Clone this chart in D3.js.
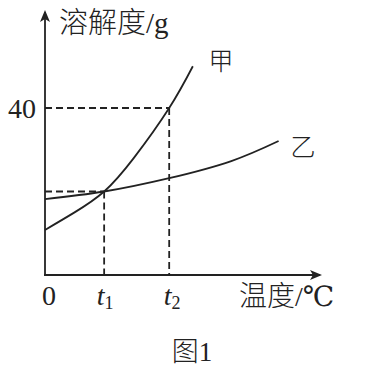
<!DOCTYPE html>
<html>
<head>
<meta charset="utf-8">
<script src="https://cdn.jsdelivr.net/npm/d3@7"></script>
<style>
  body { margin: 0; background: #fff; }
  .serif { font-family: "Liberation Serif", "DejaVu Serif", serif; }
  .cjk { font-family: "Noto Sans CJK SC", sans-serif; font-weight: 300; }
</style>
</head>
<body>
<div id="chart"></div>
<script>
var svgWidth = 372;
var svgHeight = 386;

// curve data (temperature units, solubility g)
var jiaTemp = [0, 10, 20, 30, 42, 50];
var jiaSol = [10.8, 15.0, 20, 28.0, 40, 50];
var yiTemp = [0, 20, 42, 63, 79];
var yiSol = [18.2, 20, 23.2, 27.3, 32.1];

var t1 = 20, t2 = 42;
var yMark = [20, 40];
var yTickLabels = ["40"];

var svg = d3.select("#chart")
  .append("svg")
  .attr("width", svgWidth)
  .attr("height", svgHeight);

var x = d3.scaleLinear().domain([0, 93]).range([45, 320]);
var y = d3.scaleLinear().domain([0, 63]).range([275, 12]);

var ink = "#222";

// arrow heads
var defs = svg.append("defs");
defs.append("marker")
  .attr("id", "arrow")
  .attr("viewBox", "0 0 12 10")
  .attr("refX", 10).attr("refY", 5)
  .attr("markerWidth", 12).attr("markerHeight", 10)
  .attr("markerUnits", "userSpaceOnUse")
  .attr("orient", "auto")
  .append("path")
  .attr("d", "M0,0 L12,5 L0,10 L3,5 Z")
  .attr("fill", ink);

// axes
svg.append("line")
  .attr("x1", x(0)).attr("y1", y(0))
  .attr("x2", x(0)).attr("y2", y(63))
  .attr("stroke", ink).attr("stroke-width", 1.8)
  .attr("marker-end", "url(#arrow)");

svg.append("line")
  .attr("x1", x(0) - 1).attr("y1", y(0))
  .attr("x2", x(93)).attr("y2", y(0))
  .attr("stroke", ink).attr("stroke-width", 1.8)
  .attr("marker-end", "url(#arrow)");

// dashed guide lines
function dashed(x1, y1, x2, y2) {
  svg.append("line")
    .attr("x1", x1).attr("y1", y1).attr("x2", x2).attr("y2", y2)
    .attr("stroke", ink).attr("stroke-width", 1.8)
    .attr("stroke-dasharray", "7,4");
}
dashed(x(0), y(yMark[1]), x(t2), y(yMark[1]));
dashed(x(t2), y(yMark[1]), x(t2), y(0));
dashed(x(0), y(yMark[0]), x(t1), y(yMark[0]));
dashed(x(t1), y(yMark[0]), x(t1), y(0));

// curves
var line = d3.line()
  .x(d => x(d[0]))
  .y(d => y(d[1]))
  .curve(d3.curveNatural);

svg.append("path")
  .datum(d3.zip(jiaTemp, jiaSol))
  .attr("d", line)
  .attr("fill", "none").attr("stroke", ink).attr("stroke-width", 1.8);

svg.append("path")
  .datum(d3.zip(yiTemp, yiSol))
  .attr("d", line)
  .attr("fill", "none").attr("stroke", ink).attr("stroke-width", 1.8);

// tick labels
svg.append("text")
  .attr("class", "serif")
  .attr("x", 36).attr("y", y(40) + 10)
  .attr("text-anchor", "end")
  .attr("font-size", 28)
  .attr("fill", ink)
  .text(yTickLabels[0]);

svg.append("text")
  .attr("class", "serif")
  .attr("x", x(0) + 4).attr("y", 305)
  .attr("text-anchor", "middle")
  .attr("font-size", 28)
  .attr("fill", ink)
  .text("0");

function tLabel(xp, sub) {
  var t = svg.append("text")
    .attr("class", "serif")
    .attr("x", xp).attr("y", 305)
    .attr("text-anchor", "middle")
    .attr("font-size", 28)
    .attr("fill", ink);
  t.append("tspan").attr("font-style", "italic").text("t");
  t.append("tspan").attr("font-size", 18).attr("dy", 4).text(sub);
}
tLabel(x(t1) + 1, "1");
tLabel(x(t2) + 3, "2");

// axis titles
var yt = svg.append("text")
  .attr("x", 59).attr("y", 33)
  .attr("font-size", 29)
  .attr("fill", ink);
yt.append("tspan").attr("class", "cjk").text("溶解度");
yt.append("tspan").attr("class", "serif").text("/g");

var xt = svg.append("text")
  .attr("x", 239).attr("y", 306)
  .attr("font-size", 28)
  .attr("fill", ink);
xt.append("tspan").attr("class", "cjk").text("温度");
xt.append("tspan").attr("class", "serif").text("/℃");

// series labels
svg.append("text")
  .attr("class", "cjk")
  .attr("x", 221).attr("y", 70)
  .attr("text-anchor", "middle")
  .attr("font-size", 25)
  .attr("fill", ink)
  .text("甲");

svg.append("text")
  .attr("class", "cjk")
  .attr("x", 303).attr("y", 156)
  .attr("text-anchor", "middle")
  .attr("font-size", 25)
  .attr("fill", ink)
  .text("乙");

// caption
svg.append("text")
  .attr("x", 192).attr("y", 361)
  .attr("text-anchor", "middle")
  .attr("font-size", 27)
  .attr("fill", ink)
  .call(function(t) {
    t.append("tspan").attr("class", "cjk").text("图");
    t.append("tspan").attr("class", "serif").text("1");
  });
</script>
</body>
</html>
